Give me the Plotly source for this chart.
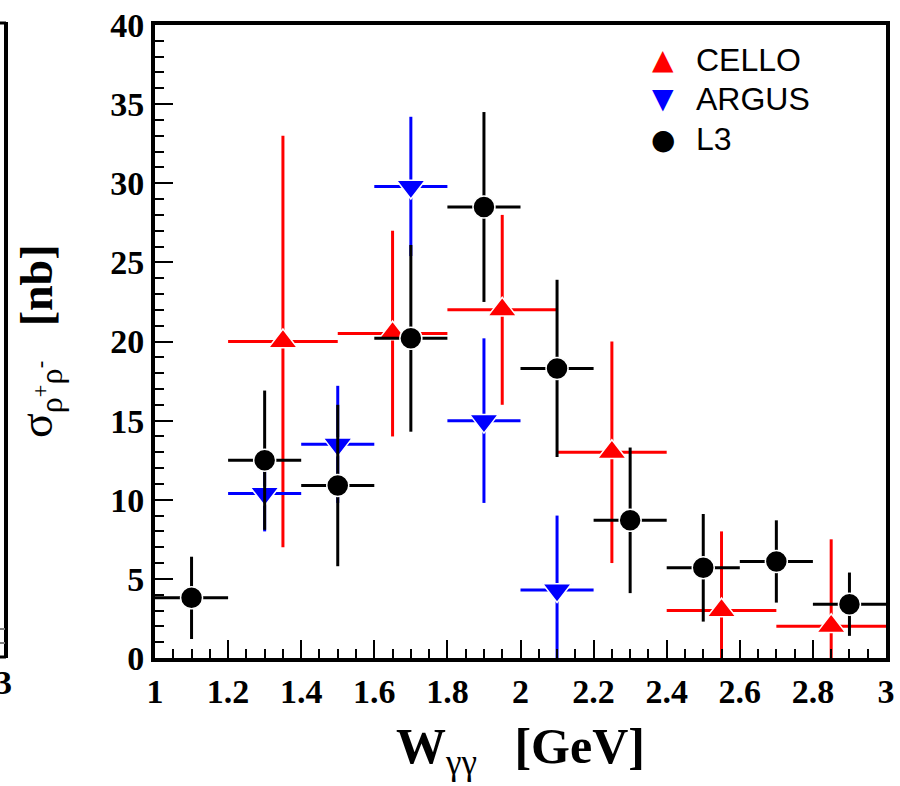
import plotly.graph_objects as go

# ---- data ----
l3_x = [1.1, 1.3, 1.5, 1.7, 1.9, 2.1, 2.3, 2.5, 2.7, 2.9]
l3_y = [3.8, 12.5, 10.9, 20.2, 28.5, 18.3, 8.7, 5.7, 6.1, 3.4]
l3_ey = [2.6, 4.4, 5.1, 5.9, 6.0, 5.6, 4.6, 3.4, 2.6, 2.0]
l3_ex = [0.1] * 10

cello_x = [1.35, 1.65, 1.95, 2.25, 2.55, 2.85]
cello_y = [20.0, 20.5, 22.0, 13.0, 3.0, 2.0]
cello_ey = [13.0, 6.5, 6.0, 7.0, 5.0, 5.5]
cello_ex = [0.15] * 6

argus_x = [1.3, 1.5, 1.7, 1.9, 2.1]
argus_y = [10.4, 13.5, 29.8, 15.0, 4.3]
argus_ey = [2.4, 3.7, 4.4, 5.2, 4.7]
argus_ex = [0.1] * 5

x_ticks = [1, 1.2, 1.4, 1.6, 1.8, 2, 2.2, 2.4, 2.6, 2.8, 3]
x_ticklabels = ["1", "1.2", "1.4", "1.6", "1.8", "2", "2.2", "2.4", "2.6", "2.8", "3"]
y_ticks = [0, 5, 10, 15, 20, 25, 30, 35, 40]

legend_names = ["CELLO", "ARGUS", "L3"]
legend_glyphs = ["▲", "▼", "●"]
legend_colors = ["#ff0000", "#0000ff", "#000000"]

# ---- figure ----
W, H = 900, 786
L, R, T, B = 155, 14, 25, 128
pw, ph = W - L - R, H - T - B


def px_x(p):
    return (p - L) / pw


def px_y(p):
    return (H - B - p) / ph


fig = go.Figure()


def add_series(x, y, ex, ey, color, symbol, size, name):
    fig.add_trace(go.Scatter(
        x=x, y=y, mode="markers", name=name,
        marker=dict(symbol=symbol, size=size, color=color,
                    line=dict(color="white", width=1.5)),
        error_x=dict(type="data", array=ex, color=color, thickness=3, width=0),
        error_y=dict(type="data", array=ey, color=color, thickness=3, width=0),
        cliponaxis=True,
    ))


add_series(cello_x, cello_y, cello_ex, cello_ey, "#ff0000", "triangle-up", 25, "CELLO")
add_series(argus_x, argus_y, argus_ex, argus_ey, "#0000ff", "triangle-down", 25, "ARGUS")
add_series(l3_x, l3_y, l3_ex, l3_ey, "#000000", "circle", 22, "L3")

tickfont = dict(family="Liberation Serif", size=34, color="black", weight="bold")

fig.update_xaxes(
    range=[1, 3], tickvals=x_ticks, ticktext=x_ticklabels,
    ticks="inside", ticklen=18, tickwidth=2, tickcolor="black",
    minor=dict(dtick=0.05, ticks="inside", ticklen=9, tickwidth=2, tickcolor="black"),
    showline=True, linewidth=4, linecolor="black", mirror=True,
    showgrid=False, zeroline=False, tickfont=tickfont, ticklabelstandoff=0,
    automargin=False,
)
fig.update_yaxes(
    range=[0, 40], tickvals=y_ticks,
    ticks="inside", ticklen=18, tickwidth=2, tickcolor="black",
    minor=dict(dtick=1, ticks="inside", ticklen=9, tickwidth=2, tickcolor="black"),
    showline=True, linewidth=4, linecolor="black", mirror=True,
    showgrid=False, zeroline=False, tickfont=tickfont, ticklabelstandoff=0,
    automargin=False,
)

annotations = [
    dict(text="<b>W</b><sub>γγ</sub>   <b>[GeV]</b>", xref="paper", yref="paper",
         x=0.5, y=px_y(750), xanchor="center", yanchor="middle", showarrow=False,
         font=dict(family="Liberation Serif", size=50, color="black")),
    dict(text="σ<sub>ρ<sup>+</sup>ρ<sup>-</sup></sub>   <b>[nb]</b>", xref="paper", yref="paper",
         x=px_x(40), y=px_y(341), xanchor="center", yanchor="middle", textangle=-90,
         showarrow=False,
         font=dict(family="Liberation Serif", size=46, color="black")),
    dict(text="<b>3</b>", xref="paper", yref="paper",
         x=px_x(3), y=px_y(682), xanchor="center", yanchor="middle", showarrow=False,
         font=dict(family="Liberation Serif", size=34, color="black")),
]

row_px = [60, 99, 139]
for name, glyph, col, rp in zip(legend_names, legend_glyphs, legend_colors, row_px):
    annotations.append(dict(
        text=glyph, xref="paper", yref="paper", x=px_x(663), y=px_y(rp),
        xanchor="center", yanchor="middle", showarrow=False,
        font=dict(family="DejaVu Sans", size=28, color=col)))
    annotations.append(dict(
        text=name, xref="paper", yref="paper", x=px_x(694), y=px_y(rp),
        xanchor="left", yanchor="middle", showarrow=False,
        font=dict(family="Liberation Sans", size=32, color="black")))

shapes = [
    dict(type="line", xref="paper", yref="paper", x0=px_x(6), x1=px_x(6),
         y0=px_y(22), y1=px_y(658), line=dict(color="black", width=4)),
    dict(type="line", xref="paper", yref="paper", x0=px_x(0), x1=px_x(6),
         y0=px_y(23), y1=px_y(23), line=dict(color="black", width=3)),
    dict(type="line", xref="paper", yref="paper", x0=px_x(0), x1=px_x(6),
         y0=px_y(657), y1=px_y(657), line=dict(color="black", width=3)),
    dict(type="line", xref="paper", yref="paper", x0=px_x(0), x1=px_x(5),
         y0=px_y(629), y1=px_y(629), line=dict(color="gray", width=2)),
    dict(type="line", xref="paper", yref="paper", x0=px_x(0), x1=px_x(5),
         y0=px_y(643), y1=px_y(643), line=dict(color="gray", width=2)),
]

fig.update_layout(
    width=W, height=H,
    margin=dict(l=L, r=R, t=T, b=B, pad=0),
    paper_bgcolor="white", plot_bgcolor="white",
    showlegend=False,
    annotations=annotations, shapes=shapes,
)

fig.write_html("out.html", config={"displayModeBar": False},
               post_script="document.body.style.margin='0';document.body.style.overflow='hidden';")
